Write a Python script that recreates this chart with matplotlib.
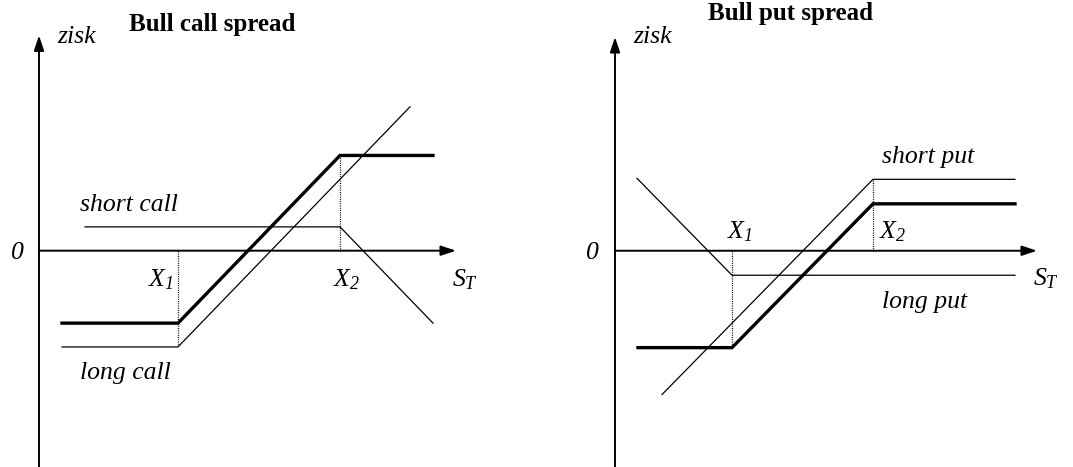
import numpy as np
import matplotlib.pyplot as plt

plt.rcParams['font.family'] = ['Liberation Serif', 'DejaVu Serif']
plt.rcParams['mathtext.fontset'] = 'custom'
plt.rcParams['mathtext.it'] = 'Liberation Serif:italic'
plt.rcParams['mathtext.rm'] = 'Liberation Serif:italic'

# bull call spread: strikes and premiums
call_strikes = [13.9, 30.1]
call_premiums = [9.3, 2.3]          # long call paid, short call received
long_call_range = [2.3, 37.1]
short_call_range = [4.6, 39.4]
call_spread_range = [2.3, 39.4]

# bull put spread
put_strikes = [11.7, 25.8]
put_premiums = [2.4, 7.0]           # long put paid, short put received
long_put_range = [2.2, 40.0]
short_put_range = [4.7, 40.0]
put_spread_range = [2.3, 40.0]

FS = 18.5   # italic labels
TS = 18     # titles


def grid(rng, strikes):
    pts = [rng[0]] + [k for k in strikes if rng[0] < k < rng[1]] + [rng[1]]
    return np.array(pts)


fig = plt.figure(figsize=(10.73, 4.67), dpi=100)

arrow = dict(arrowstyle='-|>,head_length=0.9,head_width=0.3', color='black', lw=1.4,
             shrinkA=0, shrinkB=0)
dots = (0, (0.8, 1.0))

# ---------- left panel ----------
ax = fig.add_axes([0, 0, 536 / 1073, 1])
ax.set_xlim(-3.9, 49.7)
ax.set_ylim(-20.9, 24.22)
ax.axis('off')

X1, X2 = call_strikes
c1, c2 = call_premiums
s = grid(long_call_range, call_strikes)
ax.plot(s, np.maximum(s - X1, 0) - c1, color='black', lw=0.9)
s = grid(short_call_range, call_strikes)
ax.plot(s, c2 - np.maximum(s - X2, 0), color='black', lw=0.9)
s = grid(call_spread_range, call_strikes)
spread = np.maximum(s - X1, 0) - c1 + c2 - np.maximum(s - X2, 0)
ax.plot(s, spread, color='black', lw=2.4, solid_joinstyle='miter')
ax.plot([X1, X1], [0, -c1], color='black', lw=0.9, ls=dots)
ax.plot([X2, X2], [0, X2 - X1 - c1 + c2], color='black', lw=0.9, ls=dots)

ax.annotate('', xy=(0, 20.8), xytext=(0, -20.9), arrowprops=arrow)
ax.annotate('', xy=(41.7, 0), xytext=(0, 0), arrowprops=arrow)

ax.text(1.8, 20.65, 'zisk', style='italic', fontsize=FS, ha='left', va='center')
ax.text(17.3, 21.9, 'Bull call spread', fontweight='bold', fontsize=TS, ha='center', va='center')
ax.text(-2.2, -0.2, '0', style='italic', fontsize=FS, ha='center', va='center')
ax.text(4.1, 4.4, 'short call', style='italic', fontsize=FS, ha='left', va='center')
ax.text(4.1, -11.8, 'long call', style='italic', fontsize=FS, ha='left', va='center')
ax.text(12.2, -2.8, '$X_1$', fontsize=FS, ha='center', va='center')
ax.text(30.8, -2.8, '$X_2$', fontsize=FS, ha='center', va='center')
ax.text(41.3, -2.8, '$S_T$', fontsize=FS, ha='left', va='center')

# ---------- right panel ----------
ax = fig.add_axes([536 / 1073, 0, 537 / 1073, 1])
ax.set_xlim(-7.9, 45.8)
ax.set_ylim(-21.2, 24.58)
ax.axis('off')

X1, X2 = put_strikes
p1, p2 = put_premiums
s = grid(long_put_range, put_strikes)
ax.plot(s, np.maximum(X1 - s, 0) - p1, color='black', lw=0.9)
s = grid(short_put_range, put_strikes)
ax.plot(s, p2 - np.maximum(X2 - s, 0), color='black', lw=0.9)
s = grid(put_spread_range, put_strikes)
spread = np.maximum(X1 - s, 0) - p1 + p2 - np.maximum(X2 - s, 0)
ax.plot(s, spread, color='black', lw=2.4, solid_joinstyle='miter')
ax.plot([X1, X1], [0, p2 - p1 - (X2 - X1)], color='black', lw=0.9, ls=dots)
ax.plot([X2, X2], [0, p2], color='black', lw=0.9, ls=dots)

ax.annotate('', xy=(0, 20.95), xytext=(0, -21.2), arrowprops=arrow)
ax.annotate('', xy=(42.2, 0), xytext=(0, 0), arrowprops=arrow)

ax.text(1.8, 20.95, 'zisk', style='italic', fontsize=FS, ha='left', va='center')
ax.text(17.5, 23.3, 'Bull put spread', fontweight='bold', fontsize=TS, ha='center', va='center')
ax.text(-2.3, -0.2, '0', style='italic', fontsize=FS, ha='center', va='center')
ax.text(12.5, 1.83, '$X_1$', fontsize=FS, ha='center', va='center')
ax.text(27.8, 1.83, '$X_2$', fontsize=FS, ha='center', va='center')
ax.text(26.7, 9.2, 'short put', style='italic', fontsize=FS, ha='left', va='center')
ax.text(26.7, -5.0, 'long put', style='italic', fontsize=FS, ha='left', va='center')
ax.text(41.8, -2.7, '$S_T$', fontsize=FS, ha='left', va='center')

fig.savefig('out.png', dpi=100)
